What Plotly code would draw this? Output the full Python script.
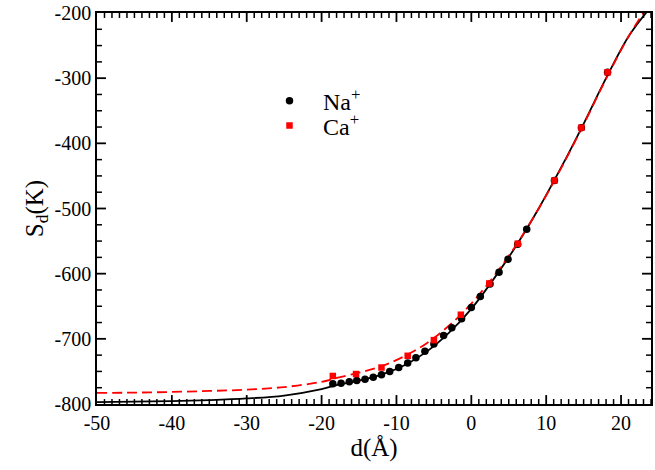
import plotly.graph_objects as go

# Na+ data points
na_x = [-18.5, -17.4, -16.3, -15.3, -14.2, -13.1, -12.0, -10.9, -9.7, -8.5, -7.4, -6.2, -5.0,
        -3.7, -2.6, -1.3, 0.0, 1.2, 2.5, 3.7, 4.9, 6.2, 7.4, 11.1, 14.7, 18.2]
na_y = [-769, -768, -766, -764, -762, -759, -755, -750, -744, -737, -729, -719, -708,
        -695, -683, -669, -652, -635, -616, -598, -578, -555, -532, -457, -376, -291]

# Ca+ data points
ca_x = [-18.5, -15.4, -12.0, -8.5, -5.0, -1.4, 2.4, 6.2, 11.1, 14.7, 18.2]
ca_y = [-757, -754, -744, -726, -702, -663, -615, -554, -457, -376, -291]

# Fitted curves
na_fit_x = [-50, -45, -40, -35, -30, -25, -20, -18, -15, -12, -9, -6, -3, 0, 3, 6, 9, 12, 15, 18, 21, 23.6]
na_fit_y = [-797, -796.5, -795.5, -794, -791.5, -787, -777, -771, -764, -755, -741, -720, -691, -654,
            -608, -557, -500, -437, -370, -300, -236, -196]

ca_fit_x = [-50, -45, -40, -35, -30, -25, -20, -18, -15, -12, -9, -6, -3, 0, 3, 6, 9, 12, 15, 18, 21, 23.3]
ca_fit_y = [-783, -782.5, -781.5, -780, -778, -774, -766, -760, -752, -742, -727, -707, -680, -646,
            -604, -556, -500, -438, -371, -301, -236, -194]

# Tick labels
x_ticks = [-50, -40, -30, -20, -10, 0, 10, 20]
x_ticklabels = ["-50", "-40", "-30", "-20", "-10", "0", "10", "20"]
y_ticks = [-800, -700, -600, -500, -400, -300, -200]
y_ticklabels = ["-800", "-700", "-600", "-500", "-400", "-300", "-200"]

X_RANGE = [-50, 24]
Y_RANGE = [-800, -200]
x_minor = [v for v in range(-49, 25) if v % 10 != 0]
y_minor = [v for v in range(-775, -200, 25) if v % 100 != 0]

font_serif = "Liberation Serif"
MARGIN = dict(l=97, r=2, t=10, b=66)
W, H = 655, 470
plot_w = W - MARGIN["l"] - MARGIN["r"]
plot_h = H - MARGIN["t"] - MARGIN["b"]
MAJ, MIN = 9, 5  # tick lengths in px

fig = go.Figure()
fig.add_trace(go.Scatter(x=na_fit_x, y=na_fit_y, mode="lines", line=dict(color="black", width=1.8, shape="spline"),
                         showlegend=False, hoverinfo="skip"))
fig.add_trace(go.Scatter(x=ca_fit_x, y=ca_fit_y, mode="lines",
                         line=dict(color="#ff0000", width=1.8, dash="10px,5px", shape="spline"),
                         showlegend=False, hoverinfo="skip"))
fig.add_trace(go.Scatter(x=na_x, y=na_y, mode="markers", name="Na<sup>+</sup>", legend="legend",
                         marker=dict(symbol="circle", size=7.5, color="black")))
fig.add_trace(go.Scatter(x=ca_x, y=ca_y, mode="markers", name="Ca<sup>+</sup>", legend="legend2",
                         marker=dict(symbol="square", size=6.5, color="#ff0000")))

# inside ticks on all four sides, drawn at the axis tick values
for vals, ln, wd in ((x_ticks[1:], MAJ, 1.8), (x_minor, MIN, 1.5)):
    for v in vals:
        fig.add_shape(type="line", xref="x", yref="paper", x0=v, x1=v, y0=0, y1=ln / plot_h,
                      line=dict(color="black", width=wd), layer="above")
        fig.add_shape(type="line", xref="x", yref="paper", x0=v, x1=v, y0=1, y1=1 - ln / plot_h,
                      line=dict(color="black", width=wd), layer="above")
for vals, ln, wd in ((y_ticks[1:-1], MAJ, 1.8), (y_minor, MIN, 1.5)):
    for v in vals:
        fig.add_shape(type="line", xref="paper", yref="y", x0=0, x1=ln / plot_w, y0=v, y1=v,
                      line=dict(color="black", width=wd), layer="above")
        fig.add_shape(type="line", xref="paper", yref="y", x0=1, x1=1 - ln / plot_w, y0=v, y1=v,
                      line=dict(color="black", width=wd), layer="above")

fig.update_layout(
    width=W, height=H,
    margin=MARGIN,
    plot_bgcolor="white", paper_bgcolor="white",
    showlegend=True,
    xaxis=dict(range=X_RANGE, tickmode="array", tickvals=x_ticks, ticktext=x_ticklabels,
               ticks="", ticklabeloverflow="allow",
               showline=True, linecolor="black", linewidth=1.5, mirror=True,
               showgrid=False, zeroline=False,
               tickfont=dict(family=font_serif, size=20, color="black"),
               title=dict(text="d(Å)", font=dict(family=font_serif, size=25, color="black"), standoff=6)),
    yaxis=dict(range=Y_RANGE, tickmode="array", tickvals=y_ticks, ticktext=y_ticklabels,
               ticks="", ticklabeloverflow="allow",
               showline=True, linecolor="black", linewidth=1.5, mirror=True,
               showgrid=False, zeroline=False,
               tickfont=dict(family=font_serif, size=20, color="black"),
               title=dict(text="S<sub>d</sub>(K)", font=dict(family=font_serif, size=25, color="black"), standoff=4)),
    legend=dict(x=0.287, y=0.832, xanchor="left", yanchor="top", bgcolor="rgba(0,0,0,0)",
                font=dict(family=font_serif, size=24, color="black"), itemwidth=57),
    legend2=dict(x=0.287, y=0.769, xanchor="left", yanchor="top", bgcolor="rgba(0,0,0,0)",
                 font=dict(family=font_serif, size=24, color="black"), itemwidth=57),
)

fig.write_html("out.html")
